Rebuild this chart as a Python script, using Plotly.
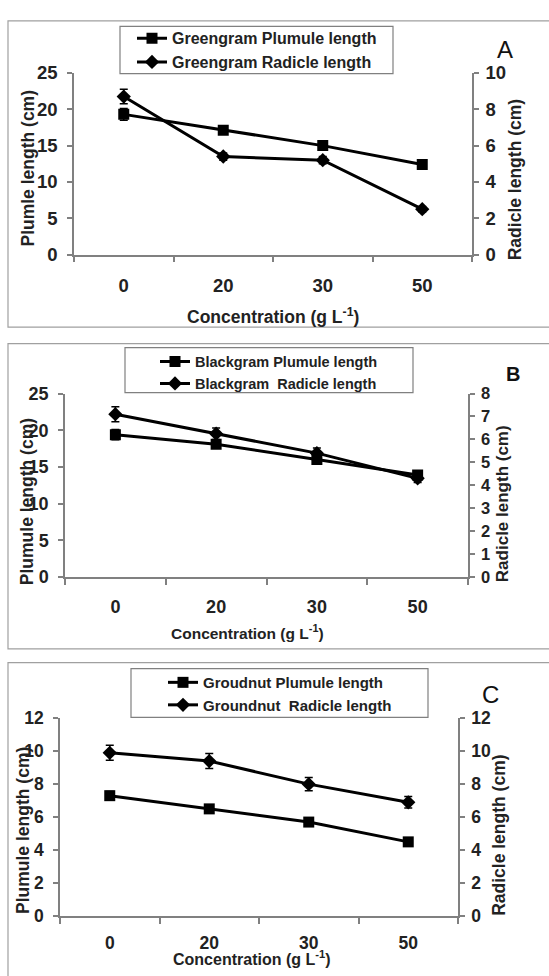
import plotly.graph_objects as go

W, H = 549, 976
FONT = "Liberation Sans, Arial, sans-serif"
AXIS_GRAY = "#808080"

# ---------------- data ----------------
conc = ["0", "20", "30", "50"]

green_plumule = [19.3, 17.1, 15.0, 12.4]
green_plumule_err = [0.8, 0.4, 0.4, 0.3]
green_radicle = [8.7, 5.4, 5.2, 2.5]
green_radicle_err = [0.4, 0.2, 0.2, 0.15]

black_plumule = [19.4, 18.1, 16.0, 13.9]
black_plumule_err = [0.7, 0.5, 0.5, 0.4]
black_radicle = [7.1, 6.25, 5.4, 4.3]
black_radicle_err = [0.33, 0.25, 0.22, 0.18]

ground_plumule = [7.3, 6.5, 5.7, 4.5]
ground_plumule_err = [0.25, 0.2, 0.2, 0.2]
ground_radicle = [9.9, 9.4, 8.0, 6.9]
ground_radicle_err = [0.45, 0.45, 0.4, 0.35]

plumule_names = ["Greengram Plumule length", "Blackgram Plumule length", "Groudnut Plumule length"]
radicle_names = ["Greengram Radicle length", "Blackgram\u00a0 Radicle length", "Groundnut\u00a0 Radicle length"]
left_titles = ["Plumle length (cm)", "Plumule length (cm)", "Plumule length (cm)"]
right_title = "Radicle length (cm)"
x_title = "Concentration (g L<sup>-1</sup>)"
panel_letters = ["A", "B", "C"]

left_ranges = [(0, 25, 5), (0, 25, 5), (0, 12, 2)]
right_ranges = [(0, 10, 2), (0, 8, 1), (0, 12, 2)]

plumules = [(green_plumule, green_plumule_err), (black_plumule, black_plumule_err), (ground_plumule, ground_plumule_err)]
radicles = [(green_radicle, green_radicle_err), (black_radicle, black_radicle_err), (ground_radicle, ground_radicle_err)]

# ---------------- layout geometry (pixels) ----------------
panels = [
    dict(plot=(74, 472, 63.3, 249), frame=(8, 10, 560, 323),
         legend=(132, 10.5), legbox=(120, 15.7, 393, 64), lfont=16,
         tickfont=18.5, xstand=13, ltitle=(28, 161, 17.5), rtitle=(515, 173, 17.5), xt=(273, 312, 17.5),
         letter=(505, 39, 24, "normal"), rtick=18.5),
    dict(plot=(65, 468, 391, 578.3), frame=(8, 340, 560, 652),
         legend=(155, 342), legbox=(125, 344, 413, 390), lfont=14.5,
         tickfont=18, xstand=13, ltitle=(27, 502, 17.5), rtitle=(502, 504, 17), xt=(247, 635, 15.5),
         letter=(513, 371, 20, "bold"), rtick=16.5),
    dict(plot=(60, 458, 722.7, 925), frame=(8, 666, 560, 990),
         legend=(163, 669.5), legbox=(131, 672, 428, 722), lfont=15,
         tickfont=17.5, xstand=10, ltitle=(23, 838, 17.5), rtitle=(499, 843, 17.5), xt=(252, 968, 16),
         letter=(490, 699, 24, "normal"), rtick=17.5),
]

fig = go.Figure()
layout = dict(
    width=W, height=H, margin=dict(l=0, r=0, t=0, b=0),
    paper_bgcolor="white", plot_bgcolor="rgba(0,0,0,0)",
    font=dict(family=FONT, color="#222222"),
    showlegend=True,
)
annotations = []
shapes = []
extra_axis = 10  # numbering for tick-only overlay axes

for i, p in enumerate(panels):
    k = i + 1
    xname = "x" if k == 1 else f"x{k}"
    yl = 2 * k - 1
    yr = 2 * k
    ylname = "y" if yl == 1 else f"y{yl}"
    yrname = f"y{yr}"
    legname = "legend" if k == 1 else f"legend{k}"

    pv, pe = plumules[i]
    rv, re_ = radicles[i]

    fig.add_trace(go.Scatter(
        x=conc, y=pv, xaxis=xname, yaxis=ylname, name=plumule_names[i], legend=legname,
        mode="lines+markers", line=dict(color="black", width=3),
        marker=dict(symbol="square", size=11, color="black"),
        error_y=dict(type="data", array=pe, color="black", thickness=1.5, width=4),
    ))
    fig.add_trace(go.Scatter(
        x=conc, y=rv, xaxis=xname, yaxis=yrname, name=radicle_names[i], legend=legname,
        mode="lines+markers", line=dict(color="black", width=3),
        marker=dict(symbol="diamond", size=11, color="black"),
        error_y=dict(type="data", array=re_, color="black", thickness=1.5, width=4),
    ))

    x0, x1, ytop, ybot = p["plot"]
    xdom = [x0 / W, x1 / W]
    ydom = [1 - ybot / H, 1 - ytop / H]

    layout["xaxis" if k == 1 else f"xaxis{k}"] = dict(
        domain=xdom, anchor=ylname, type="category", range=[-0.5, 3.5],
        tickson="boundaries", ticks="outside", ticklen=6, tickwidth=1.5, tickcolor=AXIS_GRAY,
        showline=True, linecolor=AXIS_GRAY, linewidth=1.5,
        showgrid=False, zeroline=False,
        tickfont=dict(family=FONT, size=p["tickfont"], color="#222222", weight="bold"),
        ticklabelstandoff=p["xstand"],
    )
    lo, hi, dt = left_ranges[i]
    layout["yaxis" if yl == 1 else f"yaxis{yl}"] = dict(
        domain=ydom, anchor=xname, range=[lo, hi], dtick=dt, tick0=0,
        ticks="outside", ticklen=5, tickwidth=1.5, tickcolor=AXIS_GRAY,
        showline=True, linecolor=AXIS_GRAY, linewidth=1.5,
        showgrid=False, zeroline=False,
        tickfont=dict(family=FONT, size=p["tickfont"], color="#222222", weight="bold"),
        ticklabelstandoff=6,
    )
    # inside half of the crossing ticks (left axis)
    layout[f"yaxis{extra_axis}"] = dict(
        domain=ydom, anchor=xname, overlaying=ylname, side="left",
        range=[lo, hi], dtick=dt, tick0=0, ticks="inside", ticklen=5, tickwidth=1.5,
        tickcolor=AXIS_GRAY, showline=False, showticklabels=False, showgrid=False, zeroline=False,
    )
    extra_axis += 1
    lo, hi, dt = right_ranges[i]
    layout[f"yaxis{yr}"] = dict(
        domain=ydom, anchor=xname, overlaying=ylname, side="right",
        range=[lo, hi], dtick=dt, tick0=0,
        ticks="outside", ticklen=5, tickwidth=1.5, tickcolor=AXIS_GRAY,
        showline=True, linecolor=AXIS_GRAY, linewidth=1.5,
        showgrid=False, zeroline=False,
        tickfont=dict(family=FONT, size=p["rtick"], color="#222222", weight="bold"),
        ticklabelstandoff=3,
    )
    layout[f"yaxis{extra_axis}"] = dict(
        domain=ydom, anchor=xname, overlaying=ylname, side="right",
        range=[lo, hi], dtick=dt, tick0=0, ticks="inside", ticklen=5, tickwidth=1.5,
        tickcolor=AXIS_GRAY, showline=False, showticklabels=False, showgrid=False, zeroline=False,
    )
    extra_axis += 1
    # inside half of the crossing ticks (category axis boundaries)
    layout[f"xaxis{extra_axis}"] = dict(
        domain=xdom, anchor=ylname, overlaying=xname, side="bottom", type="linear",
        range=[-0.5, 3.5], tickmode="linear", tick0=-0.5, dtick=1, ticks="inside", ticklen=5,
        tickwidth=1.5, tickcolor=AXIS_GRAY, showline=False, showticklabels=False,
        showgrid=False, zeroline=False,
    )
    extra_axis += 1

    lx, ly = p["legend"]
    layout[legname] = dict(
        x=lx / W, y=1 - ly / H, xanchor="left", yanchor="top",
        bgcolor="rgba(0,0,0,0)", borderwidth=0,
        font=dict(family=FONT, size=p["lfont"], color="#222222", weight="bold"),
        tracegroupgap=0,
    )
    bx0, by0, bx1, by1 = p["legbox"]
    shapes.append(dict(type="rect", xref="paper", yref="paper",
                       x0=bx0 / W, x1=bx1 / W, y0=1 - by1 / H, y1=1 - by0 / H,
                       line=dict(color=AXIS_GRAY, width=1.2), fillcolor="rgba(0,0,0,0)", layer="below"))

    fx0, fy0, fx1, fy1 = p["frame"]
    shapes.append(dict(type="rect", xref="paper", yref="paper",
                       x0=fx0 / W, x1=fx1 / W, y0=1 - fy1 / H, y1=1 - fy0 / H,
                       line=dict(color="#a0a0a0", width=1.2), fillcolor="rgba(0,0,0,0)", layer="below"))

    tx, ty, ts = p["ltitle"]
    annotations.append(dict(text=left_titles[i], x=tx / W, y=1 - ty / H, xref="paper", yref="paper",
                            showarrow=False, textangle=-90, xanchor="center", yanchor="middle",
                            font=dict(family=FONT, size=ts, color="#222222", weight="bold")))
    tx, ty, ts = p["rtitle"]
    annotations.append(dict(text=right_title, x=tx / W, y=1 - ty / H, xref="paper", yref="paper",
                            showarrow=False, textangle=-90, xanchor="center", yanchor="middle",
                            font=dict(family=FONT, size=ts, color="#222222", weight="bold")))
    tx, ty, ts = p["xt"]
    annotations.append(dict(text=x_title, x=tx / W, y=1 - ty / H, xref="paper", yref="paper",
                            showarrow=False, xanchor="center", yanchor="middle",
                            font=dict(family=FONT, size=ts, color="#222222", weight="bold")))
    tx, ty, ts, tw = p["letter"]
    annotations.append(dict(text=panel_letters[i], x=tx / W, y=1 - ty / H, xref="paper", yref="paper",
                            showarrow=False, xanchor="center", yanchor="middle",
                            font=dict(family=FONT, size=ts, color="#111111", weight=tw)))

layout["annotations"] = annotations
layout["shapes"] = shapes
fig.update_layout(**layout)
fig.write_html(
    "out.html",
    config={"displayModeBar": False},
    post_script="document.body.style.margin='0';document.body.style.overflow='hidden';",
)
